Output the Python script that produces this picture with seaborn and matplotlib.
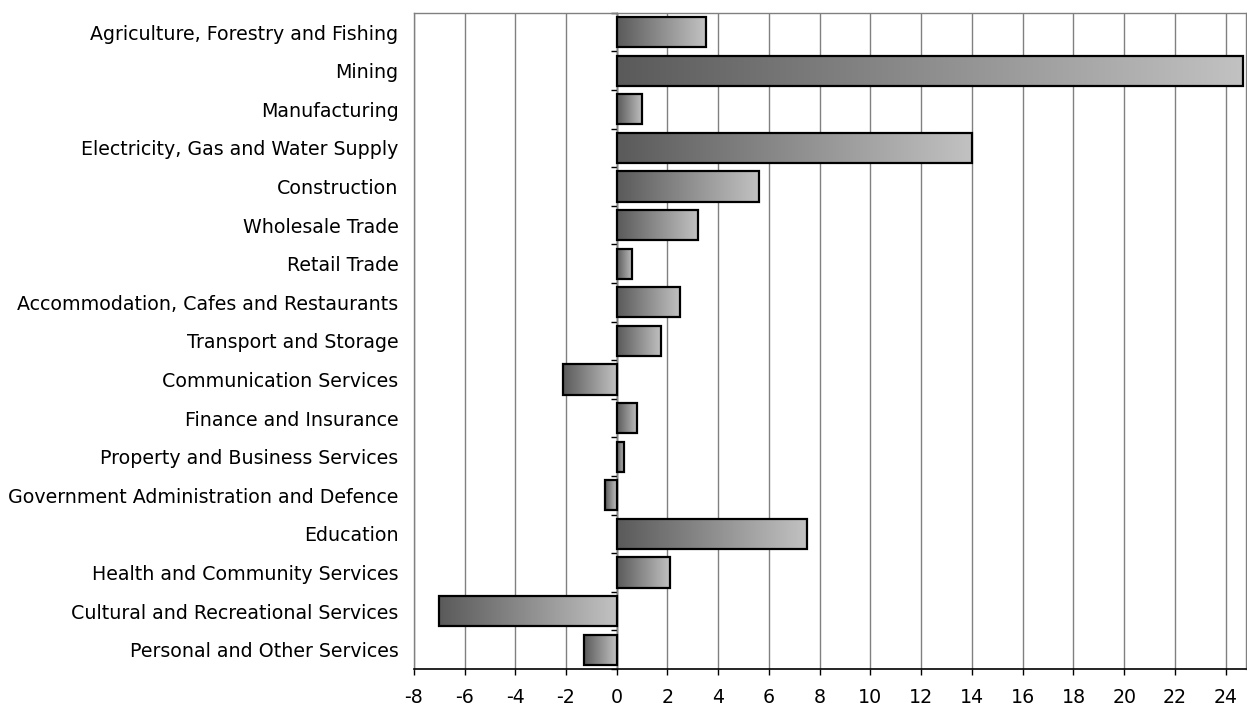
import numpy as np
import pandas as pd
import matplotlib
matplotlib.use("Agg")
import matplotlib.pyplot as plt
from matplotlib.colors import LinearSegmentedColormap
import seaborn as sns

industries = [
    "Agriculture, Forestry and Fishing",
    "Mining",
    "Manufacturing",
    "Electricity, Gas and Water Supply",
    "Construction",
    "Wholesale Trade",
    "Retail Trade",
    "Accommodation, Cafes and Restaurants",
    "Transport and Storage",
    "Communication Services",
    "Finance and Insurance",
    "Property and Business Services",
    "Government Administration and Defence",
    "Education",
    "Health and Community Services",
    "Cultural and Recreational Services",
    "Personal and Other Services",
]
change = [3.5, 24.7, 1.0, 14.0, 5.6, 3.2, 0.6, 2.5, 1.75, -2.1,
          0.8, 0.3, -0.45, 7.5, 2.1, -7.0, -1.3]
x_ticks = list(range(-8, 25, 2))

df = pd.DataFrame({"industry": industries, "change": change})

sns.set_style("white")
plt.rcParams["font.family"] = ["DejaVu Sans"]

fig = plt.figure(figsize=(12.47, 7.08), dpi=100)
ax = fig.add_axes([0.3318, 0.0551, 0.9992 - 0.3318, 0.982 - 0.0551])

sns.barplot(data=df, y="industry", x="change", orient="h", ax=ax,
            width=0.78, color="#888888", saturation=1)

xmin, xmax = -8, 24.8
n = len(industries)

# horizontal grey gradient inside every bar, dark on the left end
grad_cmap = LinearSegmentedColormap.from_list("bar_grad", ["#5a5a5a", "#c2c2c2"])
gradient = np.linspace(0, 1, 256).reshape(1, -1)
for patch in ax.patches:
    bx0 = patch.get_x()
    bx1 = bx0 + patch.get_width()
    left, right = min(bx0, bx1), max(bx0, bx1)
    by0 = patch.get_y()
    by1 = by0 + patch.get_height()
    im = ax.imshow(gradient, cmap=grad_cmap, aspect="auto",
                   extent=[left, right, max(by0, by1), min(by0, by1)],
                   zorder=2, interpolation="bilinear")
    im.set_clip_path(patch)
    patch.set_facecolor("none")
    patch.set_edgecolor("black")
    patch.set_linewidth(1.6)
    patch.set_zorder(3)

ax.set_xlim(xmin, xmax)
ax.set_ylim(n - 0.5, -0.5)
ax.set_xticks(x_ticks)
ax.set_xticklabels([str(t) for t in x_ticks])
ax.set_xlabel("")
ax.set_ylabel("")

ax.grid(axis="x", color="#808080", linewidth=1.0)
ax.grid(axis="y", visible=False)
ax.set_axisbelow(True)

for side in ("top", "right", "left"):
    ax.spines[side].set_color("#808080")
    ax.spines[side].set_linewidth(1.0)
ax.spines["bottom"].set_color("black")
ax.spines["bottom"].set_linewidth(1.2)

ax.tick_params(axis="x", direction="out", length=4, width=1.0, color="black",
               labelsize=13.7, pad=10, labelcolor="black", bottom=True)
ax.tick_params(axis="y", length=0, labelsize=13.7, pad=11, labelcolor="black")

# category axis drawn through zero with boundary ticks
zero_loc = (0 - xmin) / (xmax - xmin)
sec = ax.secondary_yaxis(zero_loc)
sec.set_yticks(np.arange(-0.5, n, 1.0))
sec.set_yticklabels([])
sec.tick_params(axis="y", direction="out", length=4, width=1.0, color="black")
sec.spines["left"].set_color("black")
sec.spines["left"].set_linewidth(1.0)

fig.savefig("out.png", dpi=100)
